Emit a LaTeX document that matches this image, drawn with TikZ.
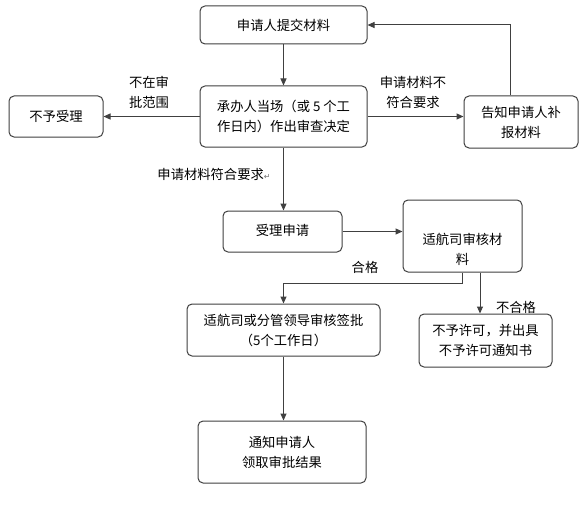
\documentclass[tikz,border=0pt]{standalone}
\usepackage{fontspec}
\setmainfont{Noto Sans CJK SC}
\newfontfamily\symfont{DejaVu Sans}
\usetikzlibrary{arrows.meta}
\begin{document}
\begin{tikzpicture}[x=1pt,y=-1pt,
 box/.style={draw=black!75, line width=1pt, rounded corners=5pt, align=center, inner sep=0pt, font=\fontsize{13.3}{20}\selectfont},
 lbl/.style={align=center, inner sep=0pt, font=\fontsize{13.3}{20}\selectfont},
 conn/.style={draw=black!75, line width=1pt, -{Triangle[length=7pt,width=6pt]}}]
\fill[white] (0,0) rectangle (588,508);
\useasboundingbox (0,0) rectangle (588,508);

\node[box, minimum width=167pt, minimum height=38pt] (A) at (283.5,25) {申请人提交材料};
\node[box, minimum width=167pt, minimum height=61pt] (B) at (283.5,116.5) {承办人当场（或 5 个工\\作日内）作出审查决定};
\node[box, minimum width=94pt, minimum height=41pt] (C) at (56,116.5) {不予受理};
\node[box, minimum width=114pt, minimum height=52pt] (D) at (521,122) {告知申请人补\\报材料};
\node[box, minimum width=119pt, minimum height=41pt] (E) at (282.5,231.5) {\raisebox{3pt}{受理申请}};
\node[box, minimum width=119pt, minimum height=72pt] (F) at (462.5,236) {};
\node[lbl] (Ft) at (462.5,249) {适航司审核材\\料};
\node[box, minimum width=193pt, minimum height=52pt] (G) at (283.5,330) {适航司或分管领导审核签批\\（5个工作日）};
\node[box, minimum width=133pt, minimum height=53pt] (H) at (485.5,340.5) {不予许可，并出具\\不予许可通知书};
\node[box, minimum width=168pt, minimum height=62pt] (I) at (282,452) {通知申请人\\领取审批结果};

\node[lbl] (l1) at (149,92) {不在审\\批范围};
\node[lbl] (l2) at (413,92) {申请材料不\\符合要求};
\node[lbl] (l3) at (214,174) {申请材料符合要求{\symfont\fontsize{8}{8}\selectfont\color{black!55}↵}};
\node[lbl] (l4) at (365,267) {合格};
\node[lbl] (l5) at (516,307) {不合格};

\coordinate (d1) at (510,0);
\coordinate (f1) at (0,283);
\coordinate (f2) at (480,0);

\draw[conn] (A.south) -- (B.north);
\draw[conn] (B.west) -- (C.east);
\draw[conn] (B.east) -- (B.east -| D.west);
\draw[conn] (d1 |- D.north) |- (A.east);
\draw[conn] (B.south) -- (B.south |- E.north);
\draw[conn] (E.east) -- (E.east -| F.west);
\draw[conn] (F.south) -- (F.south |- f1) -| (G.north);
\draw[conn] (f2 |- F.south) -- (f2 |- H.north);
\draw[conn] (G.south) -- (G.south |- I.north);
\end{tikzpicture}
\end{document}
